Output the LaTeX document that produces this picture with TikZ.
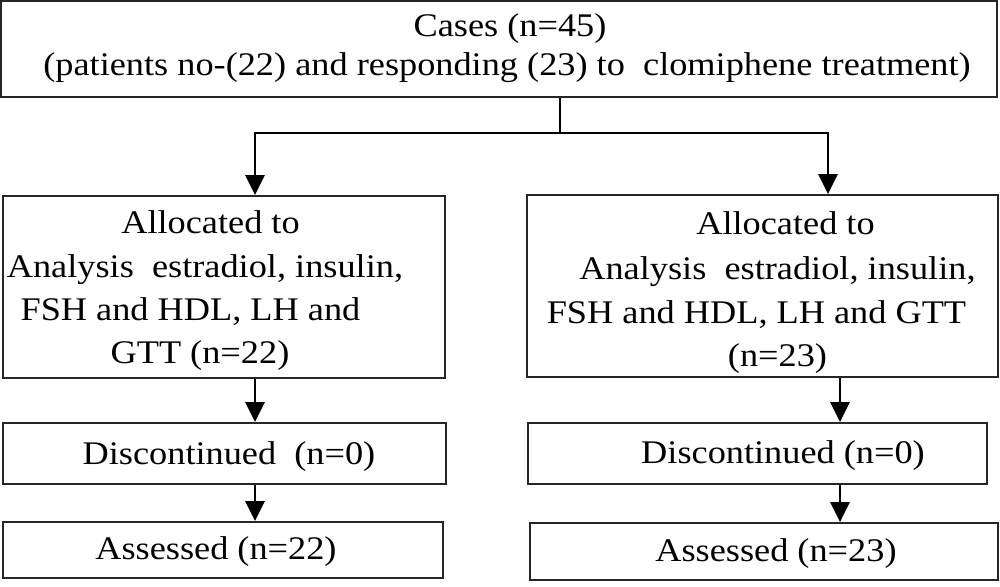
\documentclass[tikz,border=0pt]{standalone}
\usepackage{fontspec}
\setmainfont{Liberation Serif}[FakeStretch=1.1]
\usetikzlibrary{arrows.meta,calc}
\begin{document}
\begin{tikzpicture}[x=1pt,y=-1pt,
  box/.style={draw=black!85, line width=1.8pt, rectangle, inner sep=0pt},
  txt/.style={anchor=base, inner sep=0pt, font=\fontsize{33}{33}\selectfont},
  arr/.style={line width=2.8pt, -{Triangle[length=20pt,width=19pt]}},
  ln/.style={line width=2.8pt}]
\useasboundingbox (0,0) rectangle (1000,586);
\fill[white] (0,0) rectangle (1000,586);
% boxes
\node[box, minimum width=996pt, minimum height=96pt] (top) at (499,49) {};
\node[box, minimum width=442pt, minimum height=182pt] (alloc1) at (224,287) {};
\node[box, minimum width=471pt, minimum height=182pt] (alloc2) at (762.5,286) {};
\node[box, minimum width=443pt, minimum height=61pt] (disc1) at (224.5,453.5) {};
\node[box, minimum width=459pt, minimum height=61pt] (disc2) at (757.5,453.5) {};
\node[box, minimum width=440pt, minimum height=56pt] (ass1) at (223,550) {};
\node[box, minimum width=468pt, minimum height=57pt] (ass2) at (764,551.5) {};
% texts
\node[txt] (t1) at (510,37) {Cases (n=45)};
\node[txt] (t2) at (507,75) {(patients no-(22) and responding (23) to\ \ clomiphene treatment)};
\node[txt] (a11) at (210.5,233) {Allocated to};
\node[txt] (a12) at (205,277) {Analysis\ \ estradiol, insulin,};
\node[txt] (a13) at (190.5,320) {FSH and HDL, LH and};
\node[txt] (a14) at (200,363) {GTT (n=22)};
\node[txt] (a21) at (785.5,234) {Allocated to};
\node[txt] (a22) at (777.5,279) {Analysis\ \ estradiol, insulin,};
\node[txt] (a23) at (756.5,323) {FSH and HDL, LH and GTT};
\node[txt] (a24) at (777.5,366) {(n=23)};
\node[txt] (d1) at (229,464) {Discontinued\ \ (n=0)};
\node[txt] (d2) at (783,463) {Discontinued (n=0)};
\node[txt] (s1) at (216,559) {Assessed (n=22)};
\node[txt] (s2) at (776,561) {Assessed (n=23)};
% connectors
\coordinate (j) at (560,133);
\coordinate (cl) at (255,0);
\coordinate (cr) at (828,0);
\coordinate (dl) at (255,0);
\coordinate (dr) at (840,0);
\draw[ln] (top.south -| j) -- (j);
\draw[arr] (j) -- (j -| cl) -- (cl |- alloc1.north);
\draw[arr] (j) -- (j -| cr) -- (cr |- alloc2.north);
\draw[arr] (dl |- alloc1.south) -- (dl |- disc1.north);
\draw[arr] (dl |- disc1.south) -- (dl |- ass1.north);
\draw[arr] (dr |- alloc2.south) -- (dr |- disc2.north);
\draw[arr] (dr |- disc2.south) -- (dr |- ass2.north);
\end{tikzpicture}
\end{document}
